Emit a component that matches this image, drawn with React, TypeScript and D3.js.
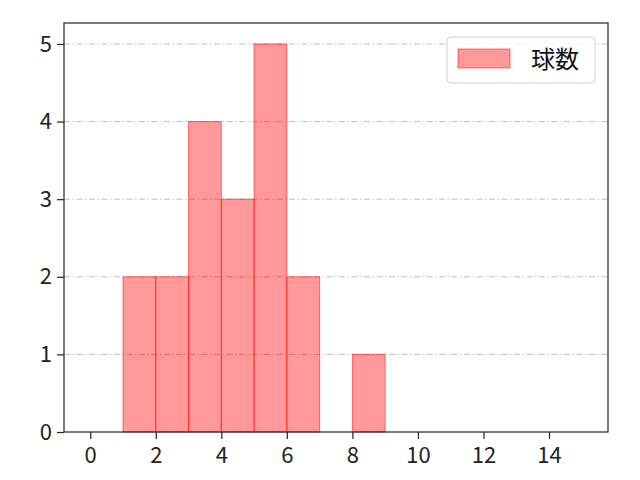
import { useEffect, useRef } from 'react';
import * as d3 from 'd3';

// histogram bins: [start, end) and count
const binStarts = [1, 2, 3, 4, 5, 6, 8];
const binEnds = [2, 3, 4, 5, 6, 7, 9];
const binCounts = [2, 2, 4, 3, 5, 2, 1];
const xTicks = [0, 2, 4, 6, 8, 10, 12, 14];
const yTicks = [0, 1, 2, 3, 4, 5];
const seriesName = '球数';

export default function App() {
  const svgRef = useRef<SVGSVGElement>(null);
  const width = 640;
  const height = 480;

  useEffect(() => {
    if (!svgRef.current) return;
    const svg = d3.select(svgRef.current);
    svg.selectAll('*').remove();

    const margin = { top: 23, right: 32, bottom: 48, left: 64 };
    const innerWidth = width - margin.left - margin.right;
    const innerHeight = height - margin.top - margin.bottom;
    const font = '"Noto Sans CJK JP", "DejaVu Sans", sans-serif';

    const g = svg.append('g')
      .attr('transform', `translate(${margin.left},${margin.top})`);

    const xScale = d3.scaleLinear().domain([-0.8, 15.8]).range([0, innerWidth]);
    const yScale = d3.scaleLinear().domain([0, 5.27]).range([innerHeight, 0]);

    // Grid (behind bars)
    g.append('g')
      .selectAll('line')
      .data(yTicks.filter(t => t > 0))
      .enter().append('line')
      .attr('x1', 0)
      .attr('x2', innerWidth)
      .attr('y1', d => yScale(d))
      .attr('y2', d => yScale(d))
      .attr('stroke', '#b0b0b0')
      .attr('stroke-width', 0.8)
      .attr('stroke-dasharray', '6,2.5,1.5,2.5');

    // Bars
    const bins = binStarts.map((s, i) => ({ x0: s, x1: binEnds[i], n: binCounts[i] }));
    g.append('g')
      .selectAll('rect')
      .data(bins)
      .enter().append('rect')
      .attr('x', d => xScale(d.x0))
      .attr('y', d => yScale(d.n))
      .attr('width', d => xScale(d.x1) - xScale(d.x0))
      .attr('height', d => innerHeight - yScale(d.n))
      .attr('fill', 'rgba(255,0,0,0.4)')
      .attr('stroke', 'rgba(255,0,0,0.5)')
      .attr('stroke-width', 1);

    // Axes
    const xAxis = g.append('g')
      .attr('transform', `translate(0,${innerHeight})`)
      .call(d3.axisBottom(xScale).tickValues(xTicks).tickSize(7).tickPadding(8).tickFormat(d3.format('d')));
    const yAxis = g.append('g')
      .call(d3.axisLeft(yScale).tickValues(yTicks).tickSize(7).tickPadding(5).tickFormat(d3.format('d')));
    [xAxis, yAxis].forEach(ax => {
      ax.select('.domain').remove();
      ax.attr('font-size', null).attr('font-family', null);
      ax.selectAll('line').attr('stroke', '#222').attr('stroke-width', 1.2);
      ax.selectAll('text')
        .attr('fill', '#222')
        .attr('font-family', font)
        .attr('font-size', 22);
    });

    // Frame
    g.append('rect')
      .attr('width', innerWidth)
      .attr('height', innerHeight)
      .attr('fill', 'none')
      .attr('stroke', '#222')
      .attr('stroke-width', 1.2);

    // Legend
    const legend = g.append('g')
      .attr('transform', `translate(${innerWidth - 161},${14})`);
    legend.append('rect')
      .attr('width', 148)
      .attr('height', 46)
      .attr('rx', 4)
      .attr('fill', 'white')
      .attr('fill-opacity', 0.8)
      .attr('stroke', '#d0d0d0');
    legend.append('rect')
      .attr('x', 11)
      .attr('y', 12)
      .attr('width', 52)
      .attr('height', 19)
      .attr('fill', 'rgba(255,0,0,0.4)')
      .attr('stroke', 'rgba(255,0,0,0.5)');
    legend.append('text')
      .attr('x', 84)
      .attr('y', 31)
      .attr('fill', '#111')
      .attr('font-family', font)
      .attr('font-size', 24)
      .text(seriesName);
  }, []);

  return (
    <div>
      <svg ref={svgRef} width={width} height={height}
        style={{ position: 'absolute', left: 0, top: 0, background: 'white' }} />
    </div>
  );
}
